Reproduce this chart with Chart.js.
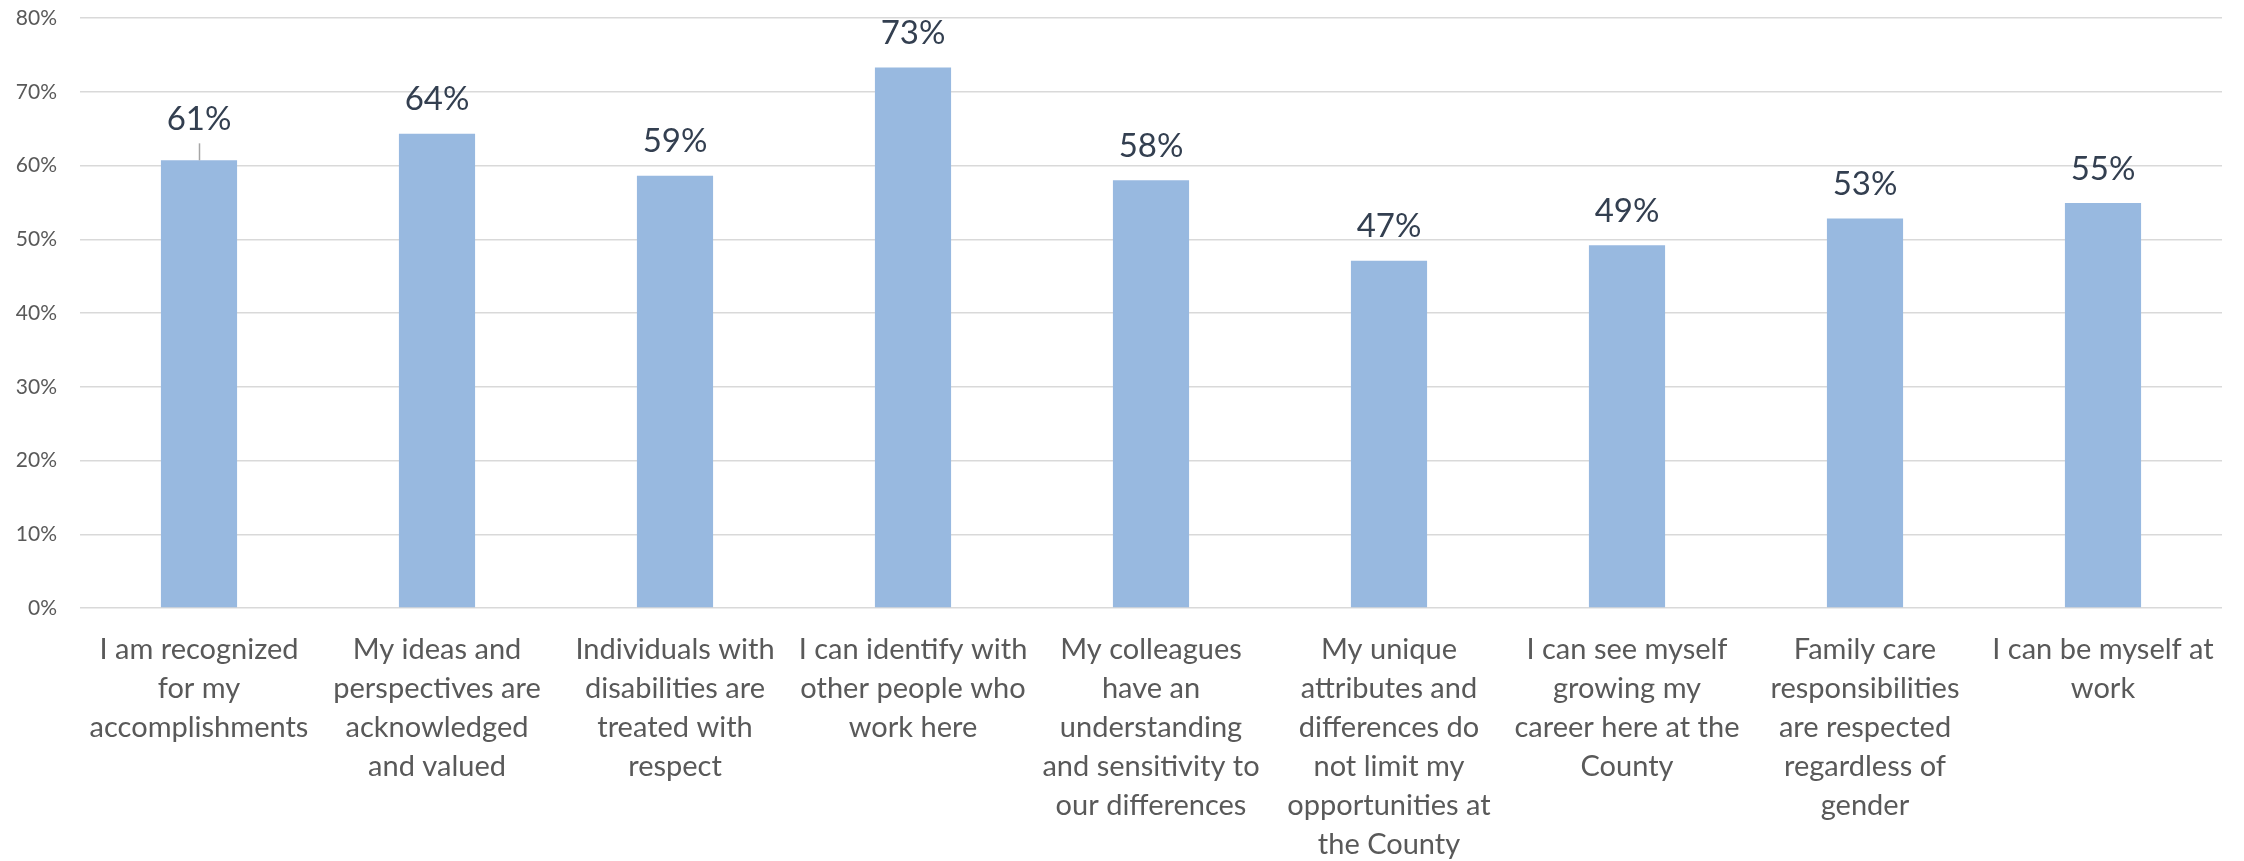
<!DOCTYPE html>
<html>
<head>
<meta charset="utf-8">
<script src="https://cdn.jsdelivr.net/npm/chart.js@4"></script>
<style>
  html, body { margin: 0; padding: 0; background: #ffffff; }
  #wrap { width: 2244px; height: 861px; }
</style>
</head>
<body>
<div id="wrap"><canvas id="c" width="2244" height="861"></canvas></div>
<script>
const categories = [
  ["I am recognized", "for my", "accomplishments"],
  ["My ideas and", "perspectives are", "acknowledged", "and valued"],
  ["Individuals with", "disabilities are", "treated with", "respect"],
  ["I can identify with", "other people who", "work here"],
  ["My colleagues", "have an", "understanding", "and sensitivity to", "our differences"],
  ["My unique", "attributes and", "differences do", "not limit my", "opportunities at", "the County"],
  ["I can see myself", "growing my", "career here at the", "County"],
  ["Family care", "responsibilities", "are respected", "regardless of", "gender"],
  ["I can be myself at", "work"]
];
const agreeValues = [60.7, 64.3, 58.6, 73.3, 58.0, 47.1, 49.2, 52.8, 54.9];
const yTickValues = [0, 10, 20, 30, 40, 50, 60, 70, 80];

const FONT = "Lato, 'Open Sans', 'DejaVu Sans', sans-serif";

const valueLabels = {
  id: 'valueLabels',
  afterDatasetsDraw(chart, args, opts) {
    const ctx = chart.ctx;
    const meta = chart.getDatasetMeta(0);
    const data = chart.data.datasets[0].data;
    ctx.save();
    ctx.font = opts.size + 'px ' + FONT;
    ctx.fillStyle = opts.color;
    ctx.textAlign = 'center';
    ctx.textBaseline = 'middle';
    meta.data.forEach((bar, i) => {
      const lift = (opts.lift && opts.lift[i]) || 0;
      const cy = bar.y - opts.offset - lift;
      if (lift > 0) {
        ctx.strokeStyle = opts.leaderColor;
        ctx.lineWidth = 1.5;
        ctx.beginPath();
        ctx.moveTo(Math.round(bar.x) + 0.5, bar.y);
        ctx.lineTo(Math.round(bar.x) + 0.5, cy + 24);
        ctx.stroke();
      }
      ctx.fillText(Math.round(data[i]) + '%', bar.x, cy);
    });
    ctx.restore();
  }
};

new Chart(document.getElementById('c'), {
  type: 'bar',
  data: {
    labels: categories,
    datasets: [{
      data: agreeValues,
      backgroundColor: '#98B9E0',
      borderWidth: 0,
      barPercentage: 0.32,
      categoryPercentage: 1.0
    }]
  },
  options: {
    responsive: false,
    animation: false,
    devicePixelRatio: 1,
    layout: { autoPadding: false, padding: { top: 18, right: 22, left: 0, bottom: 0 } },
    plugins: {
      legend: { display: false },
      tooltip: { enabled: false },
      valueLabels: { size: 33, color: '#333F50', offset: 34, lift: { 0: 7 }, leaderColor: '#A6A6A6' }
    },
    scales: {
      x: {
        grid: { display: false, drawTicks: false },
        border: { display: false },
        ticks: {
          color: '#595959',
          font: { family: FONT, size: 29, lineHeight: 39 / 29 },
          padding: 22,
          maxRotation: 0,
          minRotation: 0,
          autoSkip: false
        },
        afterFit(scale) { scale.height = 253; scale.paddingLeft = 0; scale.paddingRight = 0; }
      },
      y: {
        min: 0,
        max: 80,
        afterBuildTicks(scale) { scale.ticks = yTickValues.map(v => ({ value: v })); },
        grid: { color: '#D9D9D9', lineWidth: 1.5, drawTicks: false },
        border: { display: false },
        ticks: {
          color: '#595959',
          font: { family: FONT, size: 21 },
          padding: 23,
          callback: v => v + '%'
        },
        afterFit(scale) { scale.width = 80; scale.paddingTop = 0; scale.paddingBottom = 0; }
      }
    }
  },
  plugins: [valueLabels]
});
</script>
</body>
</html>
